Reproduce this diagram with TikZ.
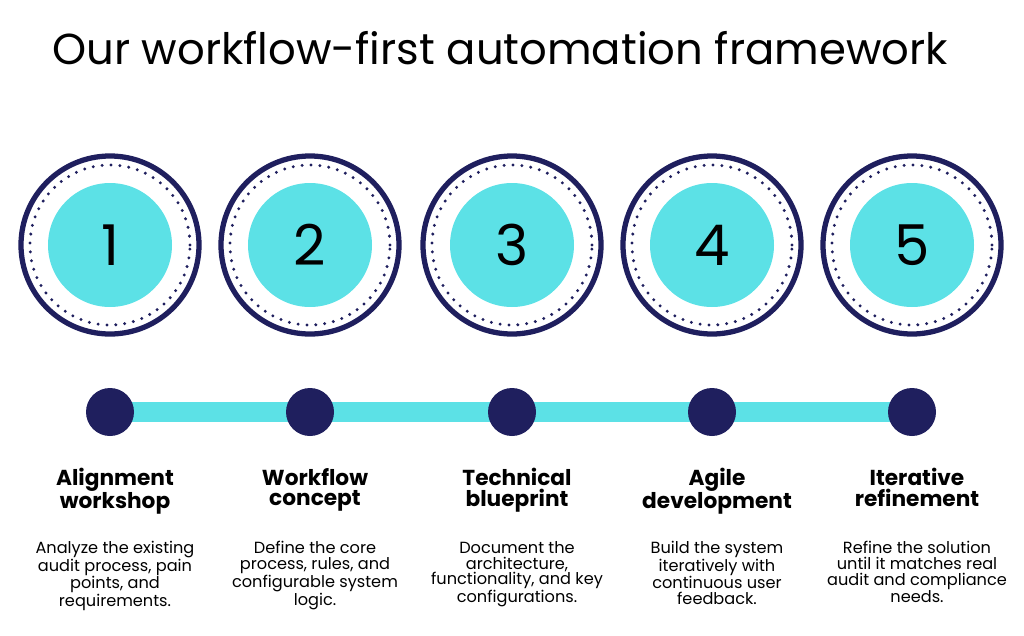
\documentclass[tikz,border=0pt]{standalone}
\usepackage{fontspec}
\setmainfont{Poppins}
\usetikzlibrary{positioning}
\definecolor{navy}{HTML}{1F1F5E}
\definecolor{aqua}{HTML}{5CE1E6}
\tikzset{
    ring/.style={circle, draw=navy, line width=4.5pt, minimum size=178*0.03cm, inner sep=0pt},
    dots/.style={circle, draw=navy, line width=2.8pt, dash pattern=on 0pt off 7.6pt, line cap=round, minimum size=160*0.03cm, inner sep=0pt},
    disk/.style={circle, fill=aqua, minimum size=124*0.03cm, inner sep=0pt, font=\fontsize{48}{48}\selectfont},
    stop/.style={circle, fill=navy, minimum size=48*0.03cm, inner sep=0pt},
    phase/.style={align=center, font=\bfseries\fontsize{18.5}{17.5}\selectfont},
    note/.style={align=center, font=\fontsize{13.8}{13.6}\selectfont}
}
\begin{document}
\begin{tikzpicture}[x=0.03cm, y=-0.03cm]
    \useasboundingbox (0,0) rectangle (1024,635);
    % Title
    \node[font=\fontsize{37}{37}\selectfont] (title) at (500,48) {Our workflow-first automation framework};

    % Timeline bar
    \fill[aqua] (110,402) rectangle (912,422);

    % Steps
    \foreach \i/\x/\head/\body in {
        1/110/{Alignment\\workshop}/{Analyze the existing\\audit process, pain\\points, and\\requirements.},
        2/310/{Workflow\\concept}/{Define the core\\process, rules, and\\configurable system\\logic.},
        3/512/{Technical\\blueprint}/{Document the\\architecture,\\functionality, and key\\configurations.},
        4/712/{Agile\\development}/{Build the system\\iteratively with\\continuous user\\feedback.},
        5/912/{Iterative\\refinement}/{Refine the solution\\until it matches real\\audit and compliance\\needs.}}
    {
        \node[ring] (r\i) at (\x,245) {};
        \node[dots] (d\i) at (\x,245) {};
        \node[disk] (c\i) at (\x,245) {\i};
        \node[stop] (s\i) at (\x,412) {};
        \node[phase, anchor=north] (h\i) at (\x+5,464) {\head};
        \node[note, anchor=north] (n\i) at (\x+5,537) {\body};
    }
\end{tikzpicture}
\end{document}
